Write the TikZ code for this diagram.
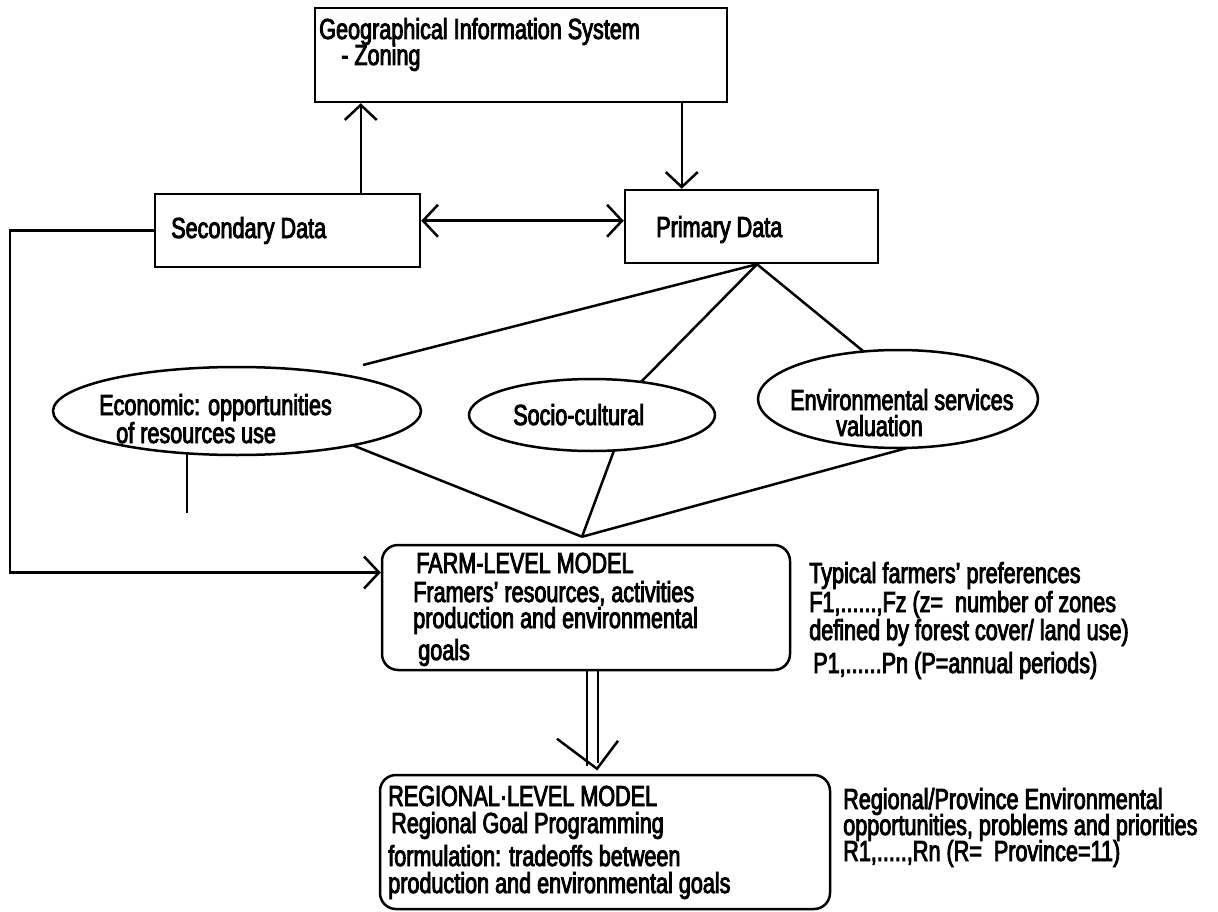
\documentclass[tikz,border=0pt]{standalone}
\usepackage{fontspec}
\setmainfont{Liberation Sans}[FakeStretch=0.745,FakeBold=3]
\usetikzlibrary{arrows.meta,shapes.geometric,calc}

\begin{document}
\begin{tikzpicture}[x=1pt,y=-1pt,line width=2.5pt,
  every node/.style={font=\fontsize{29}{30}\selectfont},
  box/.style={draw,rectangle,inner sep=0pt},
  rbox/.style={draw,rectangle,rounded corners=16pt,inner sep=0pt},
  oval/.style={draw,ellipse,inner sep=0pt},
  txt/.style={inner sep=0pt,anchor=base west},
  arr/.style={-{Straight Barb[length=15pt,width=32pt]}},
  darr/.style={{Straight Barb[length=15pt,width=32pt]}-{Straight Barb[length=15pt,width=32pt]}}]

\fill[white] (0,0) rectangle (1218,912);
\useasboundingbox (0,0) rectangle (1218,912);

% boxes
\node[box,minimum width=412pt,minimum height=94pt] (gis) at (521,55) {};
\node[box,minimum width=265pt,minimum height=73pt] (sec) at (287.5,230.5) {};
\node[box,minimum width=253pt,minimum height=73pt] (prim) at (751.5,226.5) {};
\node[rbox,minimum width=408pt,minimum height=125pt] (farm) at (586,607.5) {};
\node[rbox,minimum width=450pt,minimum height=134pt] (reg) at (605,842) {};

% ovals
\node[oval,minimum width=368pt,minimum height=88pt] (econ) at (237,411) {};
\node[oval,minimum width=246pt,minimum height=72pt] (soc) at (592,415) {};
\node[oval,minimum width=280pt,minimum height=98pt] (env) at (898,399) {};

% texts
\node[txt] (gisA) at (318,39) {Geographical Information System};
\node[txt] (gisB) at (340,65) {- Zoning};
\node[txt] (secA) at (170,238) {Secondary Data};
\node[txt] (primA) at (655,237) {Primary Data};
\node[txt] (econA) at (98,415) {Economic: opportunities};
\node[txt] (econB) at (115,443) {of resources use};
\node[txt] (socA) at (512,425) {Socio-cultural};
\node[txt] (envA) at (789,410) {Environmental services};
\node[txt] (envB) at (835,436) {valuation};
\node[txt] (farmA) at (415,573) {FARM-LEVEL MODEL};
\node[txt] (farmB) at (412,602) {Framers' resources, activities};
\node[txt] (farmC) at (412,628) {production and environmental};
\node[txt] (farmD) at (417,660) {goals};
\node[txt] (fnA) at (808,583) {Typical farmers' preferences};
\node[txt] (fnB) at (808,612) {F1,......,Fz (z= \ number of zones};
\node[txt] (fnC) at (808,640) {defined by forest cover/ land use)};
\node[txt] (fnD) at (812,673) {P1,......Pn (P=annual periods)};
\node[txt] (regA) at (387,806) {REGIONAL·LEVEL MODEL};
\node[txt] (regB) at (390,833) {Regional Goal Programming};
\node[txt] (regC) at (387,866) {formulation: tradeoffs between};
\node[txt] (regD) at (387,893) {production and environmental goals};
\node[txt] (rnA) at (842,809) {Regional/Province Environmental};
\node[txt] (rnB) at (842,835) {opportunities, problems and priorities};
\node[txt] (rnC) at (842,861) {R1,.....,Rn (R= \ Province=11)};

% data collection arrows
\draw[arr] ($(sec.north west)+(207,0)$) coordinate (s1) -- (s1 |- gis.south);
\coordinate (p1) at ($(prim.north west)+(58,0)$);
\draw[arr] (p1 |- gis.south) -- (p1);
\coordinate (hy) at ($(sec.north east)+(0,28)$);
\draw[darr] (hy) -- (hy -| prim.west);

% primary data branches
\coordinate (pf) at ($(prim.south)+(5.5,0)$);
\coordinate (econT) at (363,365);
\draw (pf) -- (econT);
\draw (pf) -- ($(soc.center)+(49,-33)$);
\draw (pf) -- ($(env.center)+(-35,-48)$);

% branches joining the farm-level model
\coordinate (fork) at ($(farm.north)+(-4,-7)$);
\draw ($(econ.center)+(115,34)$) -- (fork);
\draw ($(soc.center)+(22,35.5)$) -- (fork);
\draw ($(env.center)+(9,49)$) -- (fork);
\draw ($(econ.center)+(-50,42)$) -- ++(0,60);

% secondary data feed to the farm-level model
\coordinate (fbx) at (10,0);
\coordinate (fin) at ($(farm.west)+(0,-35)$);
\draw[arr] (sec.west) -| (fbx |- fin) -- (fin);

% hollow arrow down to the regional model
\coordinate (vtip) at ($(reg.north)+(-8,-5)$);
\draw[line width=2pt] ($(farm.south)+(1,0)$) -- ($(farm.south)+(1,95)$);
\draw[line width=2pt] ($(farm.south)+(12,0)$) -- ($(farm.south)+(12,92)$);
\draw ($(vtip)+(-40,-30)$) -- (vtip) -- ($(vtip)+(21,-28)$);

\end{tikzpicture}
\end{document}
